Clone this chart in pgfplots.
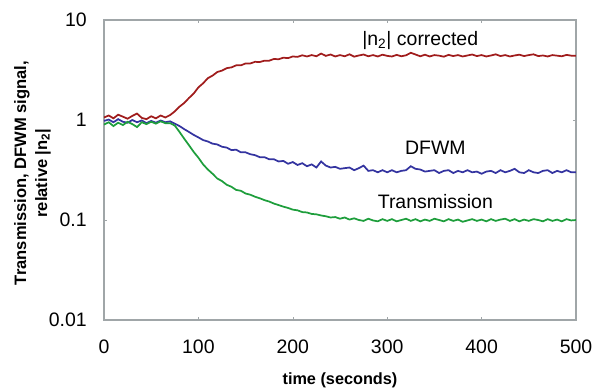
\documentclass[border=0pt]{standalone}
\usepackage{pgfplots}
\pgfplotsset{compat=1.18}
\usepackage{fontspec}
\setmainfont{Liberation Sans}
\definecolor{cred}{RGB}{160,28,28}
\definecolor{cblue}{RGB}{52,52,160}
\definecolor{cgreen}{RGB}{30,158,60}
\definecolor{axgray}{RGB}{160,166,168}
\begin{document}
\begin{tikzpicture}
\begin{axis}[at={(0,0)}, anchor=south west, scale only axis,
  width=354pt, height=225pt,
  ymode=log, xmin=0, xmax=500, ymin=0.01, ymax=10,
  xtick={0,100,200,300,400,500},
  ytick={0.01,0.1,1,10}, yticklabels={0.01,0.1,1,10},
  yminorticks=false,
  axis line style={draw=axgray, line width=0.9pt},
  tick style={draw=axgray}, major tick length=2pt,
  tick label style={font=\fontsize{14.6}{16}\selectfont, inner sep=0pt},
  xticklabel style={anchor=north, yshift=-15pt},
  yticklabel style={anchor=east, xshift=-12.75pt},
  /pgf/number format/assume math mode=true,
  xlabel={time (seconds)},
  xlabel style={font=\bfseries\fontsize{12.2}{14}\selectfont, at={(axis description cs:0.5,-0.2)}, anchor=center},
  ylabel={Transmission, DFWM signal,\\relative |n\textsubscript{2}|},
  ylabel style={font=\bfseries\fontsize{12.4}{15.75}\selectfont, align=center, at={(axis description cs:-0.1515,0.49)}, anchor=center},
]
\addplot[cred, line width=1.3pt] table {
x y
0 1.06
5 1.11
10 1.04
15 1.13
20 1.08
25 1.03
30 1.10
35 1.16
40 1.05
45 1.02
50 1.09
55 1.04
60 1.11
65 1.06
70 1.12
75 1.22
80 1.36
85 1.48
90 1.66
95 1.84
100 2.12
105 2.33
110 2.62
115 2.78
120 3.02
125 3.12
130 3.30
135 3.36
140 3.52
145 3.52
150 3.68
155 3.68
160 3.82
165 3.80
170 3.92
175 3.92
180 4.08
185 4.05
190 4.20
195 4.16
200 4.32
205 4.28
210 4.44
215 4.32
220 4.46
225 4.34
230 4.62
235 4.38
240 4.52
245 4.32
250 4.46
255 4.34
260 4.54
265 4.30
270 4.42
275 4.52
280 4.34
285 4.46
290 4.32
295 4.50
300 4.38
305 4.32
310 4.48
315 4.34
320 4.44
325 4.70
330 4.52
335 4.34
340 4.50
345 4.32
350 4.46
355 4.40
360 4.30
365 4.48
370 4.36
375 4.46
380 4.32
385 4.42
390 4.52
395 4.36
400 4.46
405 4.32
410 4.42
415 4.54
420 4.36
425 4.46
430 4.32
435 4.42
440 4.50
445 4.36
450 4.46
455 4.54
460 4.36
465 4.42
470 4.32
475 4.46
480 4.40
485 4.34
490 4.48
495 4.40
500 4.38
};
\addplot[cblue, line width=1.3pt] table {
x y
0 0.98
5 1.01
10 0.95
15 1.02
20 0.96
25 0.94
30 1.00
35 0.95
40 0.99
45 0.93
50 0.98
55 0.94
60 0.99
65 0.95
70 0.97
75 0.92
80 0.87
85 0.81
90 0.76
95 0.71
100 0.67
105 0.63
110 0.61
115 0.58
120 0.57
125 0.54
130 0.53
135 0.50
140 0.505
145 0.475
150 0.475
155 0.455
160 0.445
165 0.425
170 0.425
175 0.405
180 0.405
185 0.385
190 0.39
195 0.365
200 0.38
205 0.355
210 0.37
215 0.345
220 0.36
225 0.335
230 0.385
235 0.35
240 0.335
245 0.34
250 0.325
255 0.33
260 0.335
265 0.315
270 0.33
275 0.35
280 0.31
285 0.315
290 0.30
295 0.315
300 0.30
305 0.315
310 0.30
315 0.31
320 0.315
325 0.345
330 0.325
335 0.32
340 0.305
345 0.31
350 0.315
355 0.295
360 0.31
365 0.315
370 0.295
375 0.31
380 0.30
385 0.315
390 0.30
395 0.305
400 0.29
405 0.305
410 0.31
415 0.295
420 0.315
425 0.30
430 0.31
435 0.325
440 0.30
445 0.295
450 0.315
455 0.30
460 0.295
465 0.31
470 0.315
475 0.295
480 0.31
485 0.30
490 0.315
495 0.30
500 0.30
};
\addplot[cgreen, line width=1.3pt] table {
x y
0 0.90
5 0.95
10 0.87
15 0.94
20 0.89
25 0.96
30 0.91
35 0.85
40 0.95
45 0.91
50 0.96
55 0.92
60 0.97
65 0.93
70 0.93
75 0.88
80 0.76
85 0.65
90 0.56
95 0.48
100 0.42
105 0.36
110 0.32
115 0.29
120 0.26
125 0.245
130 0.225
135 0.215
140 0.20
145 0.196
150 0.184
155 0.179
160 0.171
165 0.165
170 0.158
175 0.153
180 0.146
185 0.141
190 0.136
195 0.132
200 0.127
205 0.125
210 0.120
215 0.119
220 0.115
225 0.114
230 0.111
235 0.109
240 0.106
245 0.107
250 0.103
255 0.106
260 0.101
265 0.104
270 0.100
275 0.098
280 0.103
285 0.099
290 0.097
295 0.102
300 0.098
305 0.102
310 0.097
315 0.100
320 0.103
325 0.098
330 0.102
335 0.097
340 0.101
345 0.098
350 0.103
355 0.100
360 0.097
365 0.102
370 0.098
375 0.101
380 0.096
385 0.099
390 0.102
395 0.098
400 0.101
405 0.097
410 0.102
415 0.098
420 0.101
425 0.103
430 0.098
435 0.102
440 0.097
445 0.101
450 0.098
455 0.102
460 0.100
465 0.097
470 0.102
475 0.098
480 0.101
485 0.097
490 0.102
495 0.099
500 0.100
};
\node[anchor=base, font=\fontsize{14.6}{16}\selectfont] at (axis cs:335,5.5) {|n\textsubscript{2}| corrected};
\node[anchor=base, font=\fontsize{14.6}{16}\selectfont] at (axis cs:351,0.447) {DFWM};
\node[anchor=base, font=\fontsize{14.6}{16}\selectfont] at (axis cs:351,0.129) {Transmission};
\end{axis}
\pgfresetboundingbox
\path[use as bounding box] (-78pt,-50.25pt) rectangle (367.5pt,240pt);
\end{tikzpicture}
\end{document}
